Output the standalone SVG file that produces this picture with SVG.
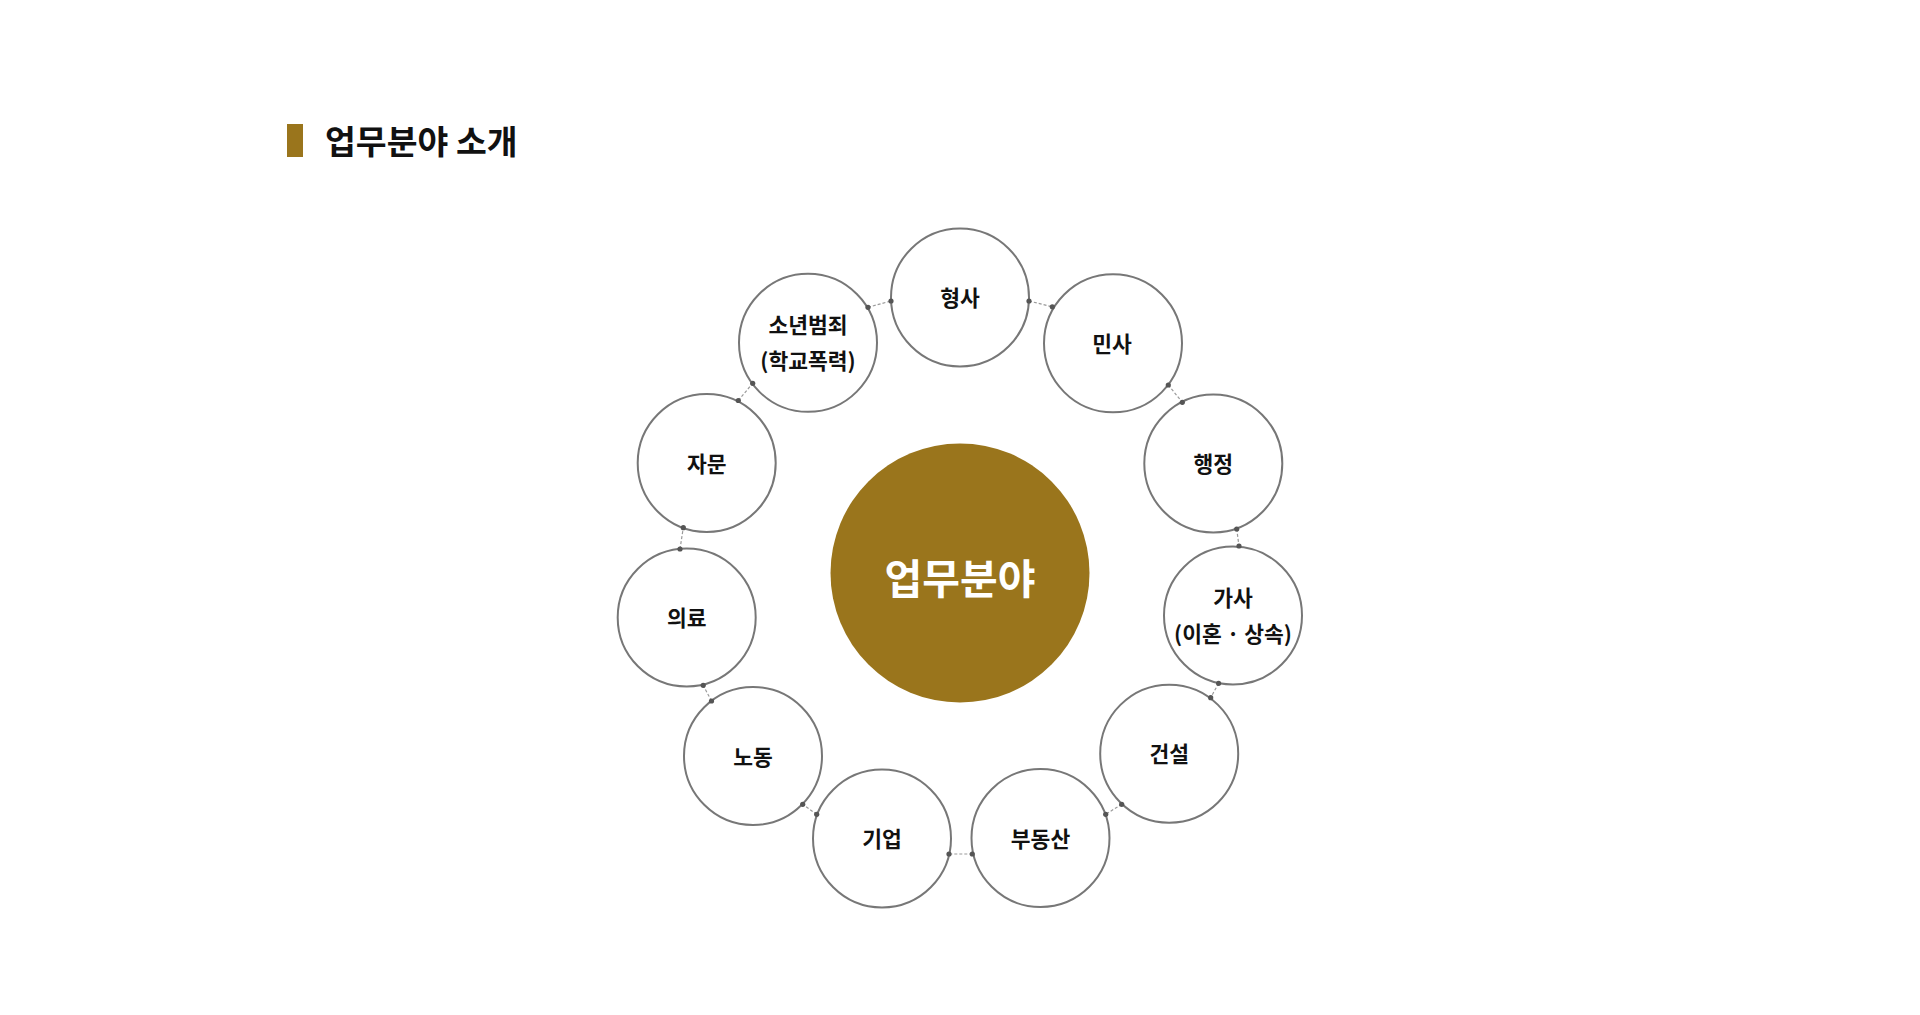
<svg xmlns="http://www.w3.org/2000/svg" width="1920" height="1015" viewBox="0 0 1920 1015">
  <style>
    .node { fill: #ffffff; stroke: #777777; stroke-width: 2; }
    .lbl { font-family: "Noto Sans CJK KR", "Noto Sans", sans-serif; font-size: 21.5px; font-weight: 700; fill: #111111; text-anchor: middle; dominant-baseline: central; }
    .conn { stroke: #9a9a9a; stroke-width: 1.2; stroke-dasharray: 3 2; fill: none; }
    .dot { fill: #555555; }
  </style>
  <rect width="1920" height="1015" fill="#ffffff"/>

  <g id="title">
    <rect x="287" y="124" width="16" height="33" fill="#9a751c"/>
    <text x="325" y="154" font-family="'Noto Sans CJK KR', 'Noto Sans', sans-serif" font-size="33.5" font-weight="700" fill="#111111">업무분야 소개</text>
  </g>

  <g id="center">
    <circle cx="960" cy="573" r="129.5" fill="#9a751c"/>
    <text x="960" y="576" font-family="'Noto Sans CJK KR', 'Noto Sans', sans-serif" font-size="41" font-weight="700" fill="#ffffff" text-anchor="middle" dominant-baseline="central">업무분야</text>
  </g>

  <g id="node-hyeongsa">
    <circle class="node" cx="960" cy="297.5" r="69"/>
    <text class="lbl" x="960" y="296.5">형사</text>
  </g>
  <g id="node-minsa">
    <circle class="node" cx="1113" cy="343.3" r="69"/>
    <text class="lbl" x="1112" y="342.3">민사</text>
  </g>
  <g id="node-haengjeong">
    <circle class="node" cx="1213.3" cy="463.5" r="69"/>
    <text class="lbl" x="1213.3" y="462.5">행정</text>
  </g>
  <g id="node-gasa">
    <circle class="node" cx="1233" cy="615.5" r="69"/>
    <text class="lbl" x="1233" y="596.5">가사</text>
    <text class="lbl" x="1233" y="632.5">(이혼 · 상속)</text>
  </g>
  <g id="node-geonseol">
    <circle class="node" cx="1169.2" cy="753.7" r="69"/>
    <text class="lbl" x="1169.2" y="752.7">건설</text>
  </g>
  <g id="node-budongsan">
    <circle class="node" cx="1040.5" cy="838" r="69"/>
    <text class="lbl" x="1040.5" y="837">부동산</text>
  </g>
  <g id="node-gieop">
    <circle class="node" cx="882" cy="838.5" r="69"/>
    <text class="lbl" x="882" y="837.5">기업</text>
  </g>
  <g id="node-nodong">
    <circle class="node" cx="753" cy="756" r="69"/>
    <text class="lbl" x="753" y="755">노동</text>
  </g>
  <g id="node-uiryo">
    <circle class="node" cx="686.7" cy="617.5" r="69"/>
    <text class="lbl" x="686.7" y="616.5">의료</text>
  </g>
  <g id="node-jamun">
    <circle class="node" cx="706.7" cy="463" r="69"/>
    <text class="lbl" x="706.7" y="462">자문</text>
  </g>
  <g id="node-sonyeon">
    <circle class="node" cx="808" cy="342.8" r="69"/>
    <text class="lbl" x="808" y="323.5">소년범죄</text>
    <text class="lbl" x="808" y="359">(학교폭력)</text>
  </g>

  <g id="connectors">
    <line class="conn" x1="868" y1="307.3" x2="891" y2="301"/>
    <line class="conn" x1="1029" y1="301" x2="1052.3" y2="306.8"/>
    <line class="conn" x1="1168.3" y1="385" x2="1182.3" y2="402.3"/>
    <line class="conn" x1="1236.7" y1="529" x2="1239" y2="546"/>
    <line class="conn" x1="1218.6" y1="683.3" x2="1210.7" y2="697.7"/>
    <line class="conn" x1="1121.7" y1="804.3" x2="1105.7" y2="814.3"/>
    <line class="conn" x1="972.3" y1="854" x2="949" y2="854"/>
    <line class="conn" x1="816.7" y1="814.3" x2="802.7" y2="804.3"/>
    <line class="conn" x1="711.5" y1="701" x2="703.2" y2="685.3"/>
    <line class="conn" x1="680" y1="549" x2="683.3" y2="527.7"/>
    <line class="conn" x1="738.3" y1="400.5" x2="752.7" y2="383.3"/>
    <circle class="dot" cx="868" cy="307.3" r="2.6"/>
    <circle class="dot" cx="891" cy="301" r="2.6"/>
    <circle class="dot" cx="1029" cy="301" r="2.6"/>
    <circle class="dot" cx="1052.3" cy="306.8" r="2.6"/>
    <circle class="dot" cx="1168.3" cy="385" r="2.6"/>
    <circle class="dot" cx="1182.3" cy="402.3" r="2.6"/>
    <circle class="dot" cx="1236.7" cy="529" r="2.6"/>
    <circle class="dot" cx="1239" cy="546" r="2.6"/>
    <circle class="dot" cx="1218.6" cy="683.3" r="2.6"/>
    <circle class="dot" cx="1210.7" cy="697.7" r="2.6"/>
    <circle class="dot" cx="1121.7" cy="804.3" r="2.6"/>
    <circle class="dot" cx="1105.7" cy="814.3" r="2.6"/>
    <circle class="dot" cx="972.3" cy="854" r="2.6"/>
    <circle class="dot" cx="949" cy="854" r="2.6"/>
    <circle class="dot" cx="816.7" cy="814.3" r="2.6"/>
    <circle class="dot" cx="802.7" cy="804.3" r="2.6"/>
    <circle class="dot" cx="711.5" cy="701" r="2.6"/>
    <circle class="dot" cx="703.2" cy="685.3" r="2.6"/>
    <circle class="dot" cx="680" cy="549" r="2.6"/>
    <circle class="dot" cx="683.3" cy="527.7" r="2.6"/>
    <circle class="dot" cx="738.3" cy="400.5" r="2.6"/>
    <circle class="dot" cx="752.7" cy="383.3" r="2.6"/>
  </g>
</svg>
